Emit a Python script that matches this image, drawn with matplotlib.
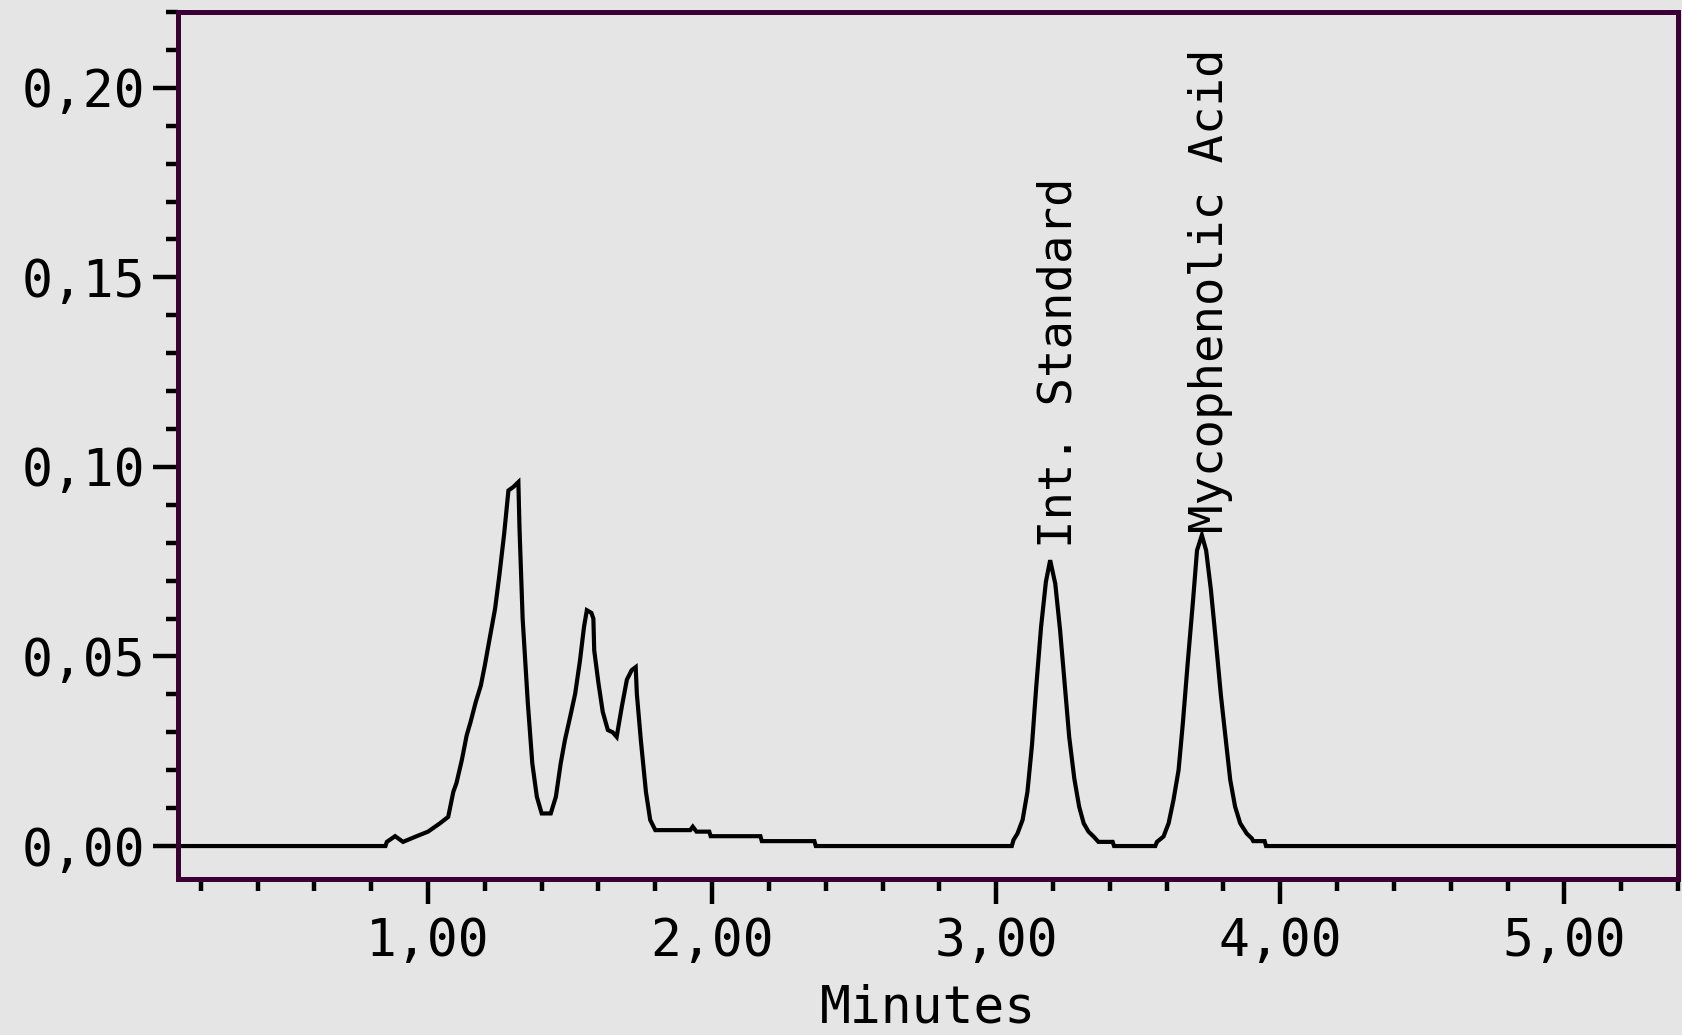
import matplotlib
matplotlib.use("Agg")
import matplotlib.pyplot as plt
from matplotlib.ticker import FixedLocator, MultipleLocator, FuncFormatter

# ---- data (retention time in minutes, absorbance) ----
time_min = [0.12, 0.85, 0.855, 0.884, 0.912, 0.96, 1.00, 1.042, 1.071, 1.089,
            1.100, 1.119, 1.136, 1.150, 1.168, 1.186, 1.200, 1.218, 1.236, 1.251,
            1.268, 1.283, 1.300, 1.318, 1.322, 1.333, 1.351, 1.367, 1.383, 1.400,
            1.432, 1.450, 1.467, 1.482, 1.500, 1.518, 1.535, 1.549, 1.559, 1.575,
            1.582, 1.585, 1.600, 1.615, 1.633, 1.650, 1.664, 1.682, 1.700, 1.717,
            1.731, 1.735, 1.749, 1.767, 1.782, 1.800, 1.923, 1.932, 1.945, 1.990,
            1.995, 2.170, 2.175, 2.360, 2.365, 3.055, 3.061, 3.075, 3.093, 3.110,
            3.126, 3.141, 3.158, 3.175, 3.190, 3.208, 3.225, 3.241, 3.257, 3.275,
            3.292, 3.308, 3.325, 3.343, 3.360, 3.410, 3.415, 3.560, 3.566, 3.589,
            3.607, 3.624, 3.642, 3.657, 3.674, 3.693, 3.707, 3.724, 3.739, 3.756,
            3.773, 3.791, 3.809, 3.824, 3.841, 3.859, 3.882, 3.900, 3.905, 3.945,
            3.950, 5.40]
absorbance = [0.0, 0.0, 0.0011, 0.0026, 0.0011, 0.0026, 0.0038, 0.0060, 0.0077, 0.0143,
              0.0166, 0.0227, 0.0292, 0.0328, 0.0380, 0.0424, 0.0477, 0.0552, 0.0626, 0.0714,
              0.0824, 0.0938, 0.0947, 0.0960, 0.0837, 0.0600, 0.0380, 0.0218, 0.0130, 0.0086,
              0.0086, 0.0130, 0.0218, 0.0280, 0.0340, 0.0402, 0.0490, 0.0578, 0.0622, 0.0615,
              0.0600, 0.0516, 0.0429, 0.0354, 0.0306, 0.0300, 0.0288, 0.0367, 0.0439, 0.0464,
              0.0472, 0.0402, 0.0280, 0.0143, 0.0069, 0.0042, 0.0042, 0.0051, 0.0038, 0.0038,
              0.0026, 0.0026, 0.0013, 0.0013, 0.0, 0.0, 0.0016, 0.0033, 0.0069, 0.0143,
              0.0266, 0.0420, 0.0578, 0.0697, 0.0754, 0.0692, 0.0569, 0.0429, 0.0288, 0.0178,
              0.0104, 0.0060, 0.0038, 0.0025, 0.0011, 0.0011, 0.0, 0.0, 0.0011, 0.0025,
              0.0060, 0.0121, 0.0200, 0.0323, 0.0481, 0.0648, 0.0780, 0.0820, 0.0780, 0.0675,
              0.0543, 0.0398, 0.0275, 0.0174, 0.0104, 0.0060, 0.0033, 0.0020, 0.0013, 0.0013,
              0.0, 0.0]

peak_names = ["Int. Standard", "Mycophenolic Acid"]
peak_times = [3.190, 3.724]
peak_heights = [0.0754, 0.0820]

x_major = [1.0, 2.0, 3.0, 4.0, 5.0]
y_major = [0.00, 0.05, 0.10, 0.15, 0.20]
x_label = "Minutes"

# ---- style ----
BG = "#e5e5e5"
SPINE = "#3a0036"
FONT = "DejaVu Sans Mono"

fig = plt.figure(figsize=(16.83, 10.35), dpi=100, facecolor=BG)
ax = fig.add_axes([0.1058, 0.1507, 0.8912, 0.8377], facecolor=BG)

ax.plot(time_min, absorbance, color="black", lw=3.0, solid_joinstyle="miter")

ax.set_xlim(0.12, 5.40)
ax.set_ylim(-0.0087, 0.2200)

ax.xaxis.set_major_locator(FixedLocator(x_major))
ax.xaxis.set_minor_locator(MultipleLocator(0.2))
ax.yaxis.set_major_locator(FixedLocator(y_major))
ax.yaxis.set_minor_locator(MultipleLocator(0.01))

fmt = FuncFormatter(lambda v, p: f"{v:.2f}".replace(".", ","))
ax.xaxis.set_major_formatter(fmt)
ax.yaxis.set_major_formatter(fmt)

for s in ax.spines.values():
    s.set_color(SPINE)
    s.set_linewidth(3.6)

ax.tick_params(which="major", direction="out", length=18, width=3.2, color="black",
               labelsize=37, pad=6)
ax.tick_params(which="minor", direction="out", length=8.5, width=3.2, color="black")
ax.tick_params(axis="x", which="major", pad=9)
for lab in ax.get_xticklabels() + ax.get_yticklabels():
    lab.set_fontfamily(FONT)

ax.set_xlabel(x_label, fontsize=37, fontfamily=FONT, labelpad=12)

for name, t, h in zip(peak_names, peak_times, peak_heights):
    ax.annotate(name, xy=(t, h), xytext=(21, 12 if h < 0.08 else 2),
                textcoords="offset pixels", rotation=90, rotation_mode="anchor",
                ha="left", va="baseline", fontsize=34, fontfamily=FONT)

fig.savefig("out.png", dpi=100, facecolor=BG)
